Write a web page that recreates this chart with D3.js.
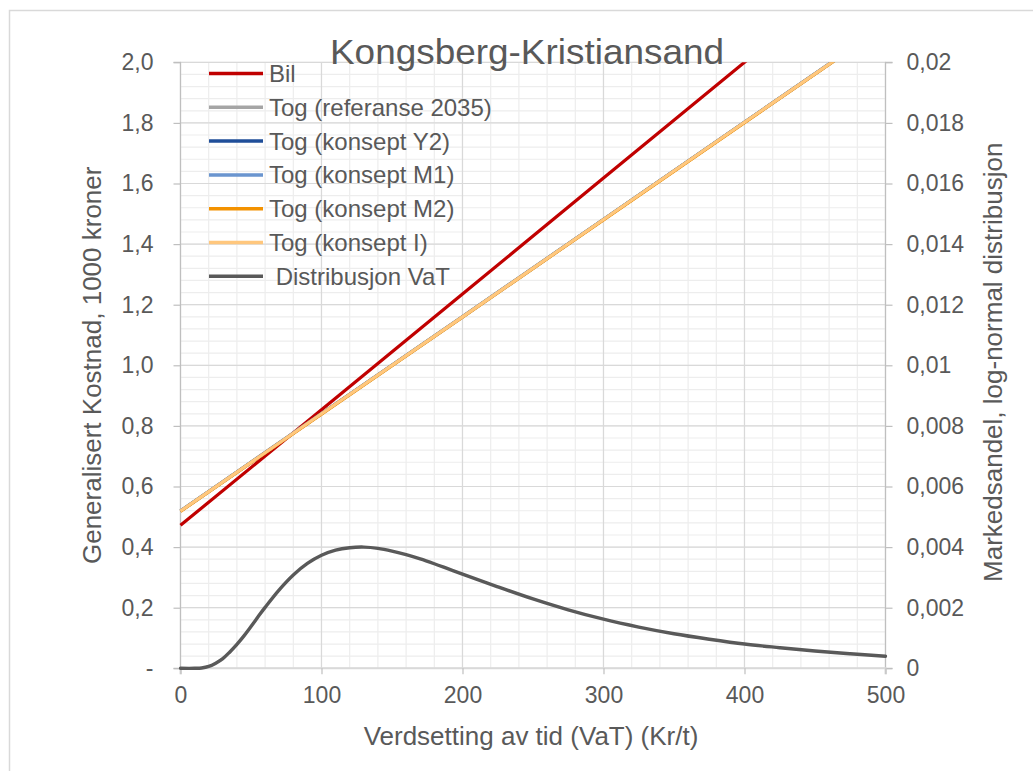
<!DOCTYPE html>
<html>
<head>
<meta charset="utf-8">
<script src="https://cdn.jsdelivr.net/npm/d3@7"></script>
<style>
  html, body { margin: 0; padding: 0; background: #fff; }
  svg { display: block; font-family: "Liberation Sans", Arial, sans-serif; }
</style>
</head>
<body>
<svg id="chart" width="1033" height="771"></svg>
<script>
// ---------- DATA ----------
const vatX = [0, 100, 200, 300, 400, 500];
const bil        = [0.472, 0.853, 1.235, 1.618, 2.000, 2.383];
const togRef     = [0.520, 0.841, 1.161, 1.482, 1.803, 2.123];
const togY2      = [0.519, 0.840, 1.160, 1.481, 1.802, 2.122];
const togM1      = [0.519, 0.840, 1.160, 1.481, 1.802, 2.122];
const togM2      = [0.518, 0.839, 1.159, 1.480, 1.801, 2.121];
const togI       = [0.519, 0.840, 1.160, 1.481, 1.802, 2.122];

const distX = [0, 10, 15, 20, 25, 30, 35, 40, 45, 50, 55, 60, 70, 80, 90, 100, 110, 120, 130, 140, 150, 160, 170, 180, 190, 200,
               225, 250, 275, 300, 325, 350, 375, 400, 425, 450, 475, 500];
const distY = [0, 0.000000, 0.00001, 0.00006, 0.00017, 0.00032, 0.00054, 0.00079, 0.00107, 0.00138, 0.00170, 0.00201, 0.00259, 0.00308, 0.00346, 0.00373,
               0.00390, 0.00398, 0.00400, 0.00396, 0.00387, 0.00375, 0.00361, 0.00345, 0.00328, 0.00311,
               0.00269, 0.00229, 0.00193, 0.00162, 0.00136, 0.00114, 0.00096, 0.00080, 0.00068, 0.00057, 0.00048, 0.00040];

const seriesNames  = ["Bil", "Tog (referanse 2035)", "Tog (konsept Y2)", "Tog (konsept M1)", "Tog (konsept M2)", "Tog (konsept I)", " Distribusjon VaT"];
const seriesColors = ["#C00000", "#A5A5A5", "#1F4E99", "#6A95CF", "#F39200", "#FFC77D", "#595959"];

const xTicks = [0, 100, 200, 300, 400, 500];
const xTickLabels = ["0", "100", "200", "300", "400", "500"];
const yLeftTicks = [0, 0.2, 0.4, 0.6, 0.8, 1.0, 1.2, 1.4, 1.6, 1.8, 2.0];
const yLeftLabels = ["-", "0,2", "0,4", "0,6", "0,8", "1,0", "1,2", "1,4", "1,6", "1,8", "2,0"];
const yRightTicks = [0, 0.002, 0.004, 0.006, 0.008, 0.01, 0.012, 0.014, 0.016, 0.018, 0.02];
const yRightLabels = ["0", "0,002", "0,004", "0,006", "0,008", "0,01", "0,012", "0,014", "0,016", "0,018", "0,02"];

const titleText = "Kongsberg-Kristiansand";
const xTitle = "Verdsetting av tid (VaT) (Kr/t)";
const yLeftTitle = "Generalisert Kostnad, 1000 kroner";
const yRightTitle = "Markedsandel, log-normal distribusjon";

// ---------- LAYOUT ----------
const svg = d3.select("#chart");
const L = 180.5, R = 885.5, T = 62.3, B = 668.3;
const textColor = "#595959";

svg.append("rect").attr("x", 9.5).attr("y", 10.5).attr("width", 1100).attr("height", 800)
  .attr("fill", "#fff").attr("stroke", "#D9D9D9").attr("stroke-width", 1.5);

const x = d3.scaleLinear().domain([0, 500]).range([L, R]);
const yL = d3.scaleLinear().domain([0, 2]).range([B, T]);
const yR = d3.scaleLinear().domain([0, 0.02]).range([B, T]);

// minor grid
const g = svg.append("g");
const minorX = d3.range(0, 501, 20);
const minorY = d3.range(0, 2.0001, 0.04);
g.selectAll(".mx").data(minorX).join("line")
  .attr("x1", d => x(d)).attr("x2", d => x(d)).attr("y1", T).attr("y2", B)
  .attr("stroke", "#EDEDED").attr("stroke-width", 1.2);
g.selectAll(".my").data(minorY).join("line")
  .attr("x1", L).attr("x2", R).attr("y1", d => yL(d)).attr("y2", d => yL(d))
  .attr("stroke", "#EDEDED").attr("stroke-width", 1.2);
// major grid
g.selectAll(".Mx").data(xTicks).join("line")
  .attr("x1", d => x(d)).attr("x2", d => x(d)).attr("y1", T).attr("y2", B)
  .attr("stroke", "#D9D9D9").attr("stroke-width", 1.2);
g.selectAll(".My").data(yLeftTicks).join("line")
  .attr("x1", L).attr("x2", R).attr("y1", d => yL(d)).attr("y2", d => yL(d))
  .attr("stroke", "#D9D9D9").attr("stroke-width", 1.2);

// axes
const axL = d3.axisLeft(yL).tickValues(yLeftTicks).tickSize(7).tickPadding(20)
  .tickFormat((d, i) => yLeftLabels[i]);
const axR = d3.axisRight(yR).tickValues(yRightTicks).tickSize(7).tickPadding(14)
  .tickFormat((d, i) => yRightLabels[i]);
const axB = d3.axisBottom(x).tickValues(xTicks).tickSize(6).tickPadding(12)
  .tickFormat((d, i) => xTickLabels[i]);

function styleAxis(sel) {
  sel.selectAll("path").attr("stroke", "#BFBFBF").attr("stroke-width", 1.2);
  sel.selectAll("line").attr("stroke", "#BFBFBF").attr("stroke-width", 1.2);
  sel.selectAll("text").attr("fill", textColor).style("font-size", "23px")
    .style("font-family", "'Liberation Sans', Arial, sans-serif");
}
svg.append("g").attr("transform", `translate(${L},0)`).call(axL).call(styleAxis)
  .call(s => s.select(".domain").attr("d", `M-7,${T}H0V${B}H-7`));
svg.append("g").attr("transform", `translate(${R},0)`).call(axR).call(styleAxis)
  .call(s => s.select(".domain").attr("d", `M7,${T}H0V${B}H7`));
svg.append("g").attr("transform", `translate(0,${B})`).call(axB).call(styleAxis)
  .call(s => s.select(".domain").attr("stroke", "#D9D9D9").attr("stroke-width", 2).attr("d", `M${L},6V0H${R}V6`));

// clip
svg.append("clipPath").attr("id", "clip").append("rect")
  .attr("x", L - 2).attr("y", T).attr("width", R - L + 4).attr("height", B - T + 2);

const lineL = d3.line().x(d => x(d[0])).y(d => yL(d[1]));
const lineR = d3.line().x(d => x(d[0])).y(d => yR(d[1])).curve(d3.curveCatmullRom.alpha(0.5));

const costSeries = [bil, togRef, togY2, togM1, togM2, togI];
const plot = svg.append("g").attr("clip-path", "url(#clip)");
// distribution first (secondary axis) then cost lines
plot.append("path").datum(distX.map((v, i) => [v, distY[i]]))
  .attr("d", lineR).attr("fill", "none").attr("stroke", seriesColors[6]).attr("stroke-width", 3.4)
  .attr("stroke-linejoin", "round").attr("stroke-linecap", "round");
costSeries.forEach((s, k) => {
  plot.append("path").datum(vatX.map((v, i) => [v, s[i]]))
    .attr("d", lineL).attr("fill", "none").attr("stroke", seriesColors[k]).attr("stroke-width", 3.2);
});

// titles
svg.append("text").attr("x", 527).attr("y", 64).attr("text-anchor", "middle")
  .attr("fill", textColor).style("font-size", "35px").attr("textLength", 394).attr("lengthAdjust", "spacingAndGlyphs").text(titleText);
svg.append("text").attr("x", 531).attr("y", 745).attr("text-anchor", "middle")
  .attr("fill", textColor).style("font-size", "26px").text(xTitle);
svg.append("text").attr("transform", `translate(101,${(T + B) / 2}) rotate(-90)`).attr("text-anchor", "middle")
  .attr("fill", textColor).style("font-size", "26px").text(yLeftTitle);
svg.append("text").attr("transform", `translate(1002,${(T + B) / 2 - 3}) rotate(-90)`).attr("text-anchor", "middle")
  .attr("fill", textColor).style("font-size", "26px").text(yRightTitle);

// legend
const leg = svg.append("g");
seriesNames.forEach((name, i) => {
  const yy = 73.5 + i * 33.8;
  leg.append("line").attr("x1", 209).attr("x2", 263).attr("y1", yy).attr("y2", yy)
    .attr("stroke", seriesColors[i]).attr("stroke-width", 3.5);
  leg.append("text").attr("x", 269).attr("y", yy + 8.5).attr("fill", textColor)
    .style("font-size", "24px").style("white-space", "pre").attr("xml:space", "preserve").text(name);
});
</script>
</body>
</html>
